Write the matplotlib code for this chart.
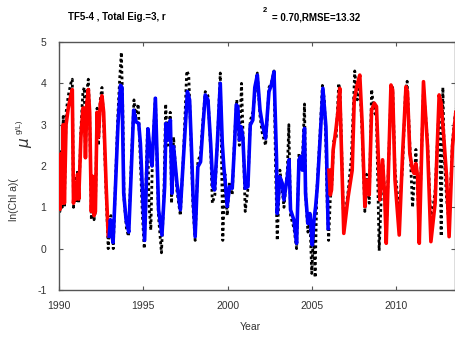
import matplotlib
matplotlib.use("Agg")
import matplotlib.pyplot as plt

plt.rcParams['font.family'] = ['Liberation Sans', 'DejaVu Sans']
plt.rcParams['axes.unicode_minus'] = False

# fitted values, first red part (calibration)
red1_year = [1990.00, 1990.06, 1990.12, 1990.18, 1990.25, 1990.32, 1990.42, 1990.55,
             1990.70, 1990.79, 1990.86, 1990.95, 1991.02, 1991.10, 1991.17, 1991.30,
             1991.42, 1991.50, 1991.57, 1991.65, 1991.74, 1991.82, 1991.92, 1992.00,
             1992.08, 1992.16, 1992.26, 1992.34, 1992.45, 1992.55, 1992.65, 1992.80,
             1992.92, 1992.98]
red1_val = [1.2, 0.95, 2.3, 1.1, 3.0, 1.1, 3.0, 3.4,
            3.7, 3.85, 1.1, 1.6, 1.2, 1.8, 1.2, 2.7,
            3.4, 3.4, 2.2, 3.5, 3.85, 3.3, 0.9, 1.75,
            0.8, 0.9, 3.3, 2.7, 3.5, 3.7, 3.3, 1.5,
            0.3, 0.3]

# fitted values, blue part (validation)
blue_year = [1992.98, 1993.05, 1993.12, 1993.21, 1993.35, 1993.50, 1993.65, 1993.74,
             1993.84, 1993.98, 1994.14, 1994.30, 1994.43, 1994.57, 1994.73, 1994.83,
             1995.08, 1995.28, 1995.42, 1995.52, 1995.72, 1995.91, 1996.11, 1996.27,
             1996.35, 1996.47, 1996.61, 1996.70, 1996.80, 1997.00, 1997.20, 1997.40,
             1997.62, 1997.75, 1997.85, 1997.95, 1998.08, 1998.24, 1998.40, 1998.54,
             1998.68, 1998.84, 1999.00, 1999.13, 1999.23, 1999.39, 1999.57, 1999.69,
             1999.78, 1999.88, 1999.98, 2000.12, 2000.28, 2000.42, 2000.52, 2000.61,
             2000.71, 2000.81, 2000.91, 2001.05, 2001.21, 2001.35, 2001.50, 2001.62,
             2001.77, 2001.93, 2002.06, 2002.26, 2002.46, 2002.60, 2002.76, 2002.91,
             2002.95, 2003.11, 2003.25, 2003.35, 2003.55, 2003.65, 2003.74, 2003.94,
             2004.10, 2004.24, 2004.34, 2004.44, 2004.57, 2004.63, 2004.77, 2004.89,
             2005.03, 2005.13, 2005.23, 2005.33, 2005.48, 2005.66, 2005.84, 2005.88,
             2005.97]
blue_val = [0.3, 0.7, 0.4, 0.15, 1.5, 3.0, 3.95, 3.9,
            1.34, 0.7, 0.4, 2.0, 3.35, 3.07, 3.03, 2.55,
            0.2, 2.9, 2.3, 2.0, 3.64, 0.94, 0.33, 1.5,
            3.03, 2.63, 3.11, 1.34, 2.47, 1.58, 0.94, 2.3,
            3.8, 3.6, 2.55, 1.34, 0.29, 1.98, 2.1, 2.95,
            3.72, 3.6, 2.55, 1.5, 1.42, 2.5, 4.0, 2.55,
            1.98, 1.54, 1.02, 1.5, 1.46, 2.55, 3.48, 3.44,
            2.63, 2.95, 2.7, 1.46, 1.5, 2.99, 3.11, 3.9,
            4.2, 3.35, 3.03, 2.67, 3.8, 3.96, 4.28, 2.15,
            0.85, 1.74, 1.58, 1.18, 1.74, 2.15, 0.94, 0.69,
            0.13, 2.15, 2.23, 1.9, 2.91, 1.34, 0.61, 0.85,
            0.09, 0.69, 1.02, 1.5, 2.55, 3.88, 2.95, 2.3,
            0.49]

# fitted values, second red part
red2_year = [2006.02, 2006.10, 2006.17, 2006.27, 2006.43, 2006.55, 2006.66, 2006.90,
             2007.16, 2007.40, 2007.52, 2007.69, 2007.85, 2007.99, 2008.15, 2008.25,
             2008.41, 2008.55, 2008.71, 2008.84, 2009.04, 2009.20, 2009.33, 2009.42,
             2009.70, 2009.80, 2009.94, 2010.19, 2010.39, 2010.59, 2010.68, 2010.82,
             2010.98, 2011.08, 2011.18, 2011.28, 2011.38, 2011.63, 2011.87, 2012.07,
             2012.32, 2012.56, 2012.68, 2012.86, 2013.00, 2013.15, 2013.35, 2013.55]
red2_val = [1.9, 1.3, 1.42, 2.39, 2.87, 3.3, 3.88, 0.37,
            1.26, 1.9, 3.6, 3.96, 4.2, 3.03, 1.02, 1.66,
            1.3, 3.35, 3.52, 3.44, 1.18, 2.15, 1.26, 0.13,
            3.96, 3.84, 1.66, 0.33, 2.3, 3.92, 3.8, 2.3,
            1.9, 1.82, 2.06, 1.74, 0.13, 4.04, 2.47, 0.17,
            1.1, 3.72, 3.52, 2.55, 1.74, 0.29, 2.47, 3.3]

# observed ln(Chl a)
obs_year = [1990.00, 1990.06, 1990.12, 1990.18, 1990.25, 1990.32, 1990.42, 1990.55,
            1990.70, 1990.79, 1990.86, 1990.95, 1991.02, 1991.10, 1991.17, 1991.30,
            1991.42, 1991.50, 1991.57, 1991.65, 1991.74, 1991.82, 1991.92, 1992.00,
            1992.08, 1992.16, 1992.26, 1992.34, 1992.45, 1992.55, 1992.65, 1992.80,
            1992.92, 1993.00, 1993.08, 1993.15, 1993.22, 1993.35, 1993.50, 1993.60,
            1993.70, 1993.78, 1993.86, 1994.00, 1994.12, 1994.30, 1994.45, 1994.55,
            1994.70, 1994.82, 1994.95, 1995.06, 1995.25, 1995.35, 1995.45, 1995.55,
            1995.72, 1995.90, 1996.08, 1996.22, 1996.33, 1996.45, 1996.60, 1996.68,
            1996.80, 1997.00, 1997.20, 1997.40, 1997.58, 1997.70, 1997.85, 1997.95,
            1998.08, 1998.24, 1998.40, 1998.54, 1998.68, 1998.84, 1999.00, 1999.10,
            1999.25, 1999.40, 1999.57, 1999.65, 1999.72, 1999.85, 1999.98, 2000.12,
            2000.28, 2000.42, 2000.55, 2000.70, 2000.83, 2000.92, 2001.05, 2001.20,
            2001.35, 2001.50, 2001.62, 2001.77, 2001.93, 2002.06, 2002.26, 2002.46,
            2002.60, 2002.76, 2002.85, 2002.95, 2003.11, 2003.25, 2003.35, 2003.55,
            2003.64, 2003.74, 2003.94, 2004.10, 2004.24, 2004.34, 2004.44, 2004.57,
            2004.65, 2004.77, 2004.89, 2005.00, 2005.10, 2005.20, 2005.30, 2005.48,
            2005.63, 2005.75, 2005.84, 2005.92, 2006.00, 2006.10, 2006.20, 2006.30,
            2006.45, 2006.60, 2006.68, 2006.90, 2007.16, 2007.35, 2007.55, 2007.70,
            2007.85, 2007.99, 2008.15, 2008.25, 2008.41, 2008.55, 2008.71, 2008.84,
            2009.00, 2009.10, 2009.20, 2009.33, 2009.42, 2009.70, 2009.80, 2009.94,
            2010.19, 2010.39, 2010.55, 2010.66, 2010.82, 2010.98, 2011.08, 2011.18,
            2011.28, 2011.38, 2011.63, 2011.87, 2012.07, 2012.32, 2012.56, 2012.68,
            2012.78, 2012.86, 2013.00, 2013.15, 2013.35, 2013.55]
obs_val = [1.1, 0.9, 2.4, 1.0, 3.2, 1.0, 3.3, 3.7,
           4.0, 4.1, 1.0, 1.7, 1.1, 1.9, 1.1, 2.9,
           3.8, 3.9, 2.2, 3.8, 4.1, 3.2, 0.7, 1.8,
           0.7, 0.9, 3.4, 2.5, 3.6, 3.9, 3.1, 1.3,
           0.0, 0.6, 0.8, 0.5, 0.0, 1.6, 3.3, 4.1,
           4.75, 3.5, 1.2, 0.5, 0.3, 2.2, 3.6, 3.2,
           3.5, 2.2, 0.8, 0.0, 2.9, 1.0, 0.45, 2.3,
           3.7, 0.8, -0.1, 1.2, 3.5, 2.5, 3.3, 1.1,
           2.7, 1.4, 0.8, 2.4, 4.3, 4.2, 2.4, 1.0,
           0.2, 2.1, 2.3, 3.1, 3.8, 3.7, 2.4, 1.1,
           1.3, 2.6, 4.25, 2.0, 0.2, 1.8, 0.8, 1.6,
           1.3, 2.7, 3.6, 2.5, 4.0, 2.8, 0.9, 1.4,
           3.1, 3.3, 3.7, 4.25, 3.2, 2.8, 2.5, 3.9,
           4.0, 4.3, 2.0, 0.2, 1.9, 1.4, 1.0, 1.9,
           3.0, 0.8, 0.5, 0.0, 2.3, 2.0, 2.1, 3.5,
           1.2, 0.4, 0.7, -0.6, 0.4, -0.7, 1.4, 2.7,
           3.95, 3.6, 2.5, 1.0, 0.2, 1.2, 1.6, 2.6,
           2.7, 4.0, 3.8, 0.5, 1.4, 2.2, 4.3, 3.6,
           4.0, 2.8, 0.9, 1.8, 1.1, 3.85, 3.3, 3.2,
           -0.05, 1.0, 2.2, 1.3, 0.4, 3.8, 3.9, 1.9,
           0.9, 2.0, 3.7, 4.05, 2.5, 1.0, 1.6, 2.4,
           1.4, 0.5, 3.9, 2.6, 0.6, 1.4, 3.5, 0.3,
           3.9, 2.3, 1.2, 0.6, 2.6, 3.4]

fig = plt.figure(figsize=(4.56, 3.37), dpi=100)
ax = fig.add_axes([59/456, 1 - 290/337, 396/456, 248/337])

ax.plot(obs_year, obs_val, color='black', lw=2.0, linestyle=(0, (1, 1)), zorder=2)
ax.plot(red1_year, red1_val, color='#ff0000', lw=2.6, zorder=3)
ax.plot(blue_year, blue_val, color='#0000ff', lw=2.6, zorder=3)
ax.plot(red2_year, red2_val, color='#ff0000', lw=2.6, zorder=3)

ax.set_xlim(1990, 2013.5)
ax.set_ylim(-1, 5)
ax.set_xticks([1990, 1995, 2000, 2005, 2010])
ax.set_yticks([-1, 0, 1, 2, 3, 4, 5])

edge = '#555555'
for s in ax.spines.values():
    s.set_color(edge)
    s.set_linewidth(1.0)
ax.tick_params(direction='in', length=3, width=0.8, color=edge, top=True, right=True,
               labelsize=7.5, labelcolor='#333333')
ax.tick_params(axis='y', pad=9)
ax.tick_params(axis='x', pad=8)

fig.text(250/456, 1 - 327/337, 'Year', ha='center', va='center', fontsize=7.5, color='#333333')

# y label pieces as they show in the reference
fig.text(14.5/456, 1 - 200/337, 'ln(Chl a)(', rotation=90, ha='center', va='center',
         fontsize=7.5, color='#333333')
fig.text(26/456, 1 - 142/337, r'$\mu$', rotation=90, ha='center', va='center',
         fontsize=11, color='#333333')
fig.text(19.5/456, 1 - 127/337, 'g/L)', rotation=90, ha='center', va='center',
         fontsize=6, color='#333333')

# title pieces
fig.text(68/456, 1 - 17/337, 'TF5-4 , Total Eig.=3, r', ha='left', va='center',
         fontsize=7, fontweight='bold', color='black')
fig.text(263/456, 1 - 10/337, '2', ha='left', va='center',
         fontsize=5.5, fontweight='bold', color='black')
fig.text(272/456, 1 - 17/337, '= 0.70,RMSE=13.32', ha='left', va='center',
         fontsize=7, fontweight='bold', color='black')

fig.savefig('out.png', dpi=100)
